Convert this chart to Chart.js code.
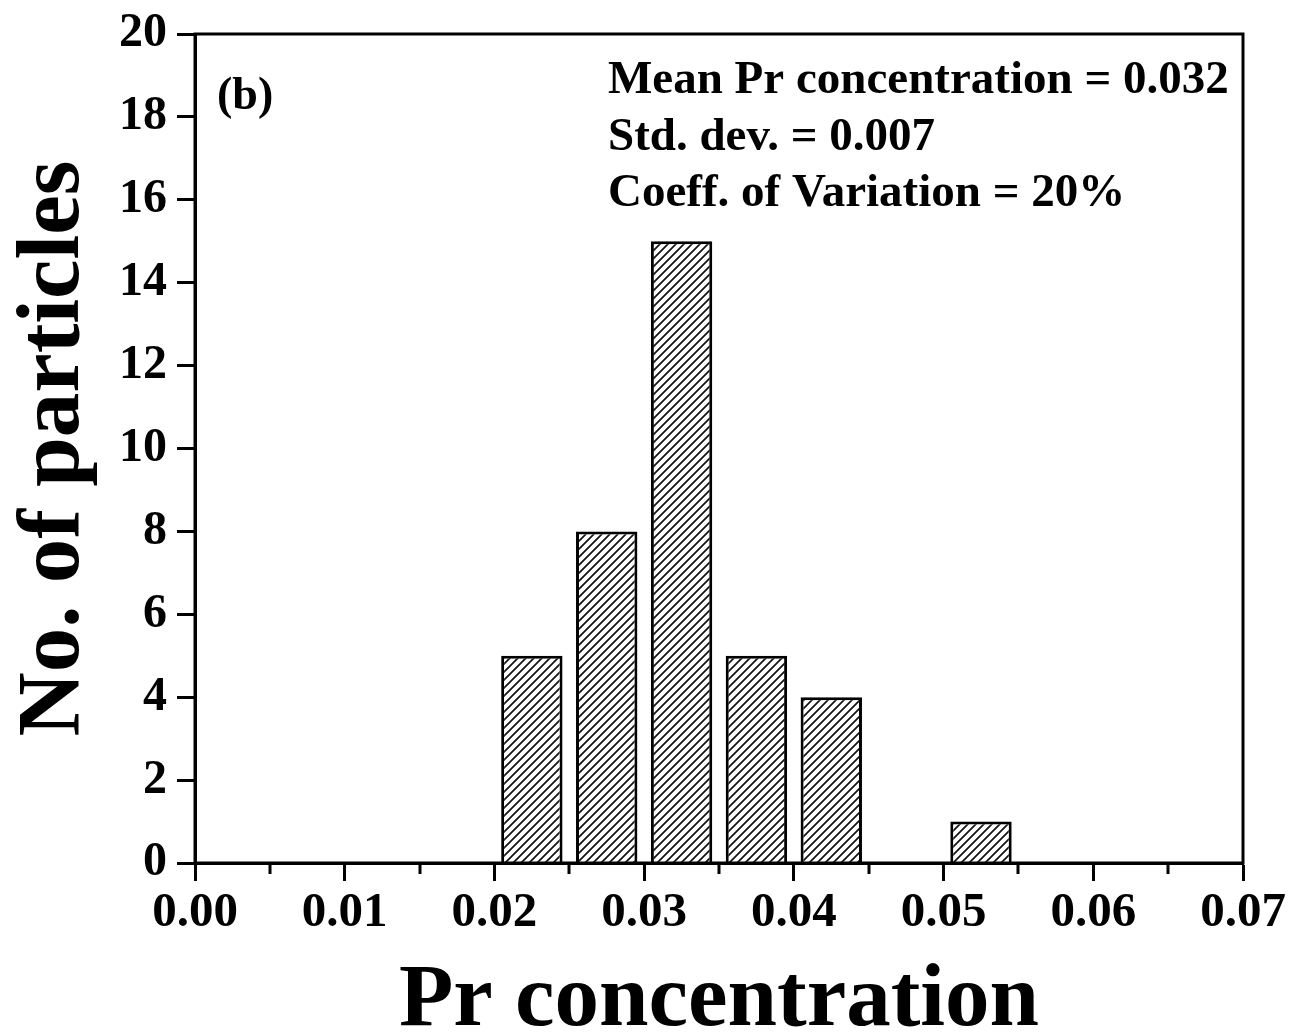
<!DOCTYPE html>
<html>
<head>
<meta charset="utf-8">
<script src="https://cdn.jsdelivr.net/npm/chart.js@4.4.0/dist/chart.umd.min.js"></script>
<style>
  html, body { margin: 0; padding: 0; background: #fff; }
  #wrap { width: 1307px; height: 1036px; }
</style>
</head>
<body>
<div id="wrap"><canvas id="hist"></canvas></div>
<script>
// histogram bins (centres) and counts
const binCenters = [0.0225, 0.0275, 0.0325, 0.0375, 0.0425, 0.0525];
const counts = [5, 8, 15, 5, 4, 1];
const minorXTicks = [0.005, 0.015, 0.025, 0.035, 0.045, 0.055, 0.065];
const statLines = [
  "Mean Pr concentration = 0.032",
  "Std. dev. = 0.007",
  "Coeff. of Variation = 20%"
];
const panelLabel = "(b)";

const FONT = "'Liberation Serif', 'Times New Roman', serif";

function hatch() {
  const c = document.createElement("canvas");
  c.width = 8; c.height = 8;
  const g = c.getContext("2d");
  g.fillStyle = "#fff";
  g.fillRect(0, 0, 8, 8);
  g.strokeStyle = "#111";
  g.lineWidth = 1.7;
  g.beginPath();
  g.moveTo(-2, 10); g.lineTo(10, -2);
  g.moveTo(-2, 2); g.lineTo(2, -2);
  g.moveTo(6, 10); g.lineTo(10, 6);
  g.stroke();
  return g.createPattern(c, "repeat");
}

const decor = {
  id: "decor",
  beforeDraw(chart) {
    const ctx = chart.ctx;
    ctx.save();
    ctx.fillStyle = "#fff";
    ctx.fillRect(0, 0, chart.width, chart.height);
    ctx.restore();
  },
  afterDraw(chart) {
    const { ctx, chartArea: a } = chart;
    const x = chart.scales.x;
    ctx.save();
    // frame
    ctx.strokeStyle = "#000";
    ctx.lineWidth = 3;
    ctx.strokeRect(a.left, a.top, a.right - a.left, a.bottom - a.top);
    // minor ticks on x
    ctx.beginPath();
    minorXTicks.forEach((v) => {
      const px = Math.round(x.getPixelForValue(v));
      ctx.moveTo(px, a.bottom);
      ctx.lineTo(px, a.bottom + 11);
    });
    ctx.stroke();
    // texts
    ctx.fillStyle = "#000";
    ctx.textBaseline = "alphabetic";
    ctx.font = "bold 46px " + FONT;
    ctx.fillText(panelLabel, a.left + 22, a.top + 75);
    ctx.font = "bold 47px " + FONT;
    statLines.forEach((t, i) => {
      ctx.fillText(t, a.left + 413, a.top + 59 + i * 56.5);
    });
    ctx.restore();
  }
};

new Chart(document.getElementById("hist"), {
  type: "bar",
  data: {
    datasets: [{
      data: binCenters.map((c, i) => ({ x: c, y: counts[i] })),
      backgroundColor: hatch(),
      borderColor: "#000",
      borderWidth: 3,
      barPercentage: 0.82,
      categoryPercentage: 1
    }]
  },
  options: {
    responsive: true,
    maintainAspectRatio: false,
    animation: false,
    layout: { padding: { left: 0, top: 33, right: 64, bottom: 0 } },
    plugins: { legend: { display: false }, tooltip: { enabled: false } },
    scales: {
      x: {
        type: "linear",
        min: 0,
        max: 0.07,
        offset: false,
        afterFit: (s) => { s.height = 173; },
        ticks: {
          stepSize: 0.01,
          color: "#000",
          padding: 8,
          maxRotation: 0,
          font: { family: FONT, size: 49, weight: "bold", lineHeight: 1 },
          callback: (v) => Number(v).toFixed(2)
        },
        grid: { offset: false, drawOnChartArea: false, tickLength: 18, tickWidth: 3, tickColor: "#000" },
        border: { color: "#000", width: 3 },
        title: {
          display: true,
          text: "Pr concentration",
          color: "#000",
          padding: { top: 0, bottom: -11 },
          font: { family: FONT, size: 89, weight: "bold", lineHeight: 1 }
        }
      },
      y: {
        min: 0,
        max: 20,
        afterFit: (s) => { s.width = 195; },
        ticks: {
          stepSize: 2,
          color: "#000",
          padding: 10,
          font: { family: FONT, size: 48, weight: "bold", lineHeight: 1 }
        },
        grid: { drawOnChartArea: false, tickLength: 18, tickWidth: 3, tickColor: "#000" },
        border: { color: "#000", width: 3 },
        title: {
          display: true,
          text: "No. of particles",
          color: "#000",
          padding: { top: 11, bottom: 0 },
          font: { family: FONT, size: 89, weight: "bold", lineHeight: 1 }
        }
      }
    }
  },
  plugins: [decor]
});
</script>
</body>
</html>
